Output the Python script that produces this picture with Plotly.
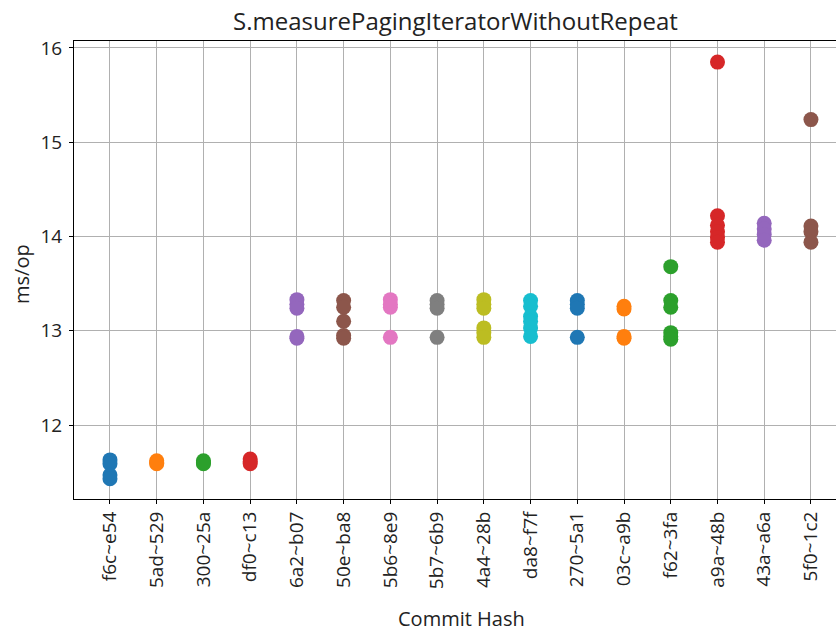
import plotly.graph_objects as go

# commit hashes on the x axis
commits = ["f6c~e54", "5ad~529", "300~25a", "df0~c13", "6a2~b07", "50e~ba8",
           "5b6~8e9", "5b7~6b9", "4a4~28b", "da8~f7f", "270~5a1", "03c~a9b",
           "f62~3fa", "a9a~48b", "43a~a6a", "5f0~1c2"]

# measured ms/op for each commit
ms_f6c = [11.63, 11.59, 11.47, 11.43]
ms_5ad = [11.62, 11.60, 11.59]
ms_300 = [11.62, 11.60, 11.59]
ms_df0 = [11.64, 11.61, 11.59]
ms_6a2 = [13.33, 13.28, 13.24, 12.94, 12.92]
ms_50e = [13.32, 13.25, 13.10, 12.95, 12.92]
ms_5b6 = [13.33, 13.28, 13.25, 12.93]
ms_5b7 = [13.32, 13.28, 13.24, 12.93]
ms_4a4 = [13.33, 13.28, 13.24, 13.03, 12.98, 12.93]
ms_da8 = [13.32, 13.26, 13.15, 13.10, 13.03, 12.94]
ms_270 = [13.32, 13.28, 13.24, 12.93]
ms_03c = [13.26, 13.23, 12.94, 12.92]
ms_f62 = [13.68, 13.32, 13.25, 12.98, 12.94, 12.91]
ms_a9a = [15.85, 14.22, 14.12, 14.05, 13.99, 13.94]
ms_43a = [14.14, 14.08, 14.02, 13.96]
ms_5f0 = [15.24, 14.11, 14.05, 13.94]

series = [ms_f6c, ms_5ad, ms_300, ms_df0, ms_6a2, ms_50e, ms_5b6, ms_5b7,
          ms_4a4, ms_da8, ms_270, ms_03c, ms_f62, ms_a9a, ms_43a, ms_5f0]

colors = ["#1f77b4", "#ff7f0e", "#2ca02c", "#d62728", "#9467bd",
          "#8c564b", "#e377c2", "#7f7f7f", "#bcbd22", "#17becf"]

fig = go.Figure()
for i, vals in enumerate(series):
    fig.add_trace(go.Scatter(
        x=[i] * len(vals), y=vals, mode="markers",
        marker=dict(size=15, color=colors[i % len(colors)], line=dict(width=0)),
        showlegend=False, name=commits[i]))

# the original figure is wider than the window, so the right side is cut off
font = "Open Sans, Noto Sans, sans-serif"
fig.update_layout(
    width=846, height=631,
    margin=dict(l=74, r=0, t=41, b=132),
    plot_bgcolor="white", paper_bgcolor="white",
    font=dict(family=font, size=19, color="#222222"),
    annotations=[
        dict(text="S.measurePagingIteratorWithoutRepeat", xref="paper",
             yref="paper", x=0, y=1, xanchor="center", yanchor="middle",
             xshift=381, yshift=21, showarrow=False, font=dict(size=24)),
        dict(text="Commit Hash", xref="paper", yref="paper", x=0, y=0,
             xanchor="center", yanchor="middle", xshift=387, yshift=-119,
             showarrow=False, font=dict(size=20)),
        dict(text="ms/op", xref="paper", yref="paper", x=0, y=0.5,
             xanchor="center", yanchor="middle", xshift=-53, yshift=-4,
             textangle=-90, showarrow=False, font=dict(size=20)),
    ],
)
fig.update_xaxes(
    range=[-0.77, 15.75], tickmode="array", tickvals=list(range(len(commits))),
    ticktext=commits, tickangle=-90, showgrid=True, gridcolor="#b0b0b0",
    gridwidth=1, zeroline=False, showline=True, linecolor="black",
    linewidth=1, mirror=True, ticks="outside", ticklen=4, tickcolor="black",
    automargin=False)
fig.update_yaxes(
    range=[11.215, 16.074], tickvals=[12, 13, 14, 15, 16], showgrid=True,
    gridcolor="#b0b0b0", gridwidth=1, zeroline=False, showline=True,
    linecolor="black", linewidth=1, ticks="outside", ticklen=4,
    tickcolor="black", automargin=False, ticklabelstandoff=3)

# no page margin / scrollbars, so the figure sits at the window's corner
fig.write_html("out.html", config={"displayModeBar": False},
               post_script="document.body.style.margin='0';"
                           "document.body.style.overflow='hidden';")
